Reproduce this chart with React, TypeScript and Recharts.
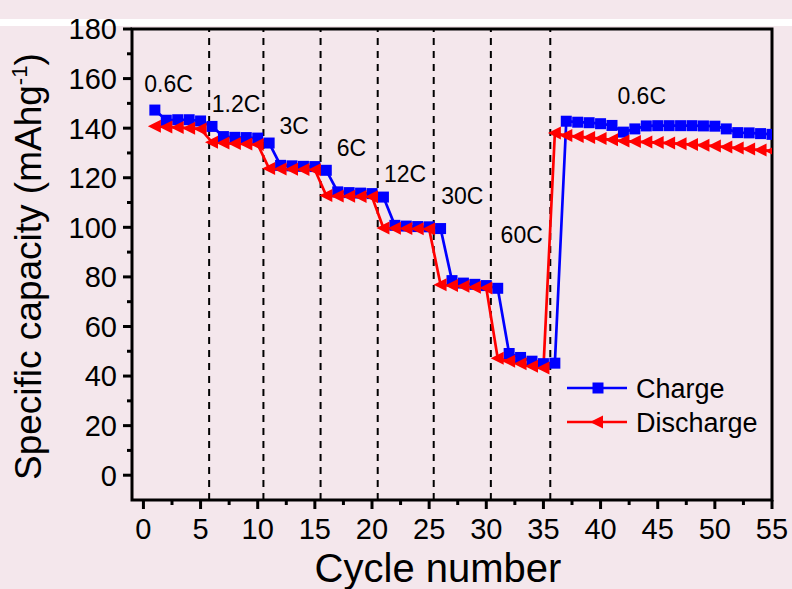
import React from "react";
import {
  LineChart,
  Line,
  XAxis,
  YAxis,
  ReferenceLine,
  ReferenceArea,
  ReferenceDot,
  Legend,
} from "recharts";

// cycle index
const cycles = [
  1, 2, 3, 4, 5, 6, 7, 8, 9, 10, 11, 12, 13, 14, 15, 16, 17, 18, 19, 20, 21, 22, 23, 24, 25, 26, 27, 28,
  29, 30, 31, 32, 33, 34, 35, 36, 37, 38, 39, 40, 41, 42, 43, 44, 45, 46, 47, 48, 49, 50, 51, 52, 53, 54, 55,
];

// mAh/g
const charge = [
  147.3, 143.2, 143.4, 143.4, 142.9, 140.7, 136.6, 136.3, 136.2, 136.0, 134.0, 125.0, 124.8, 124.6, 124.5,
  123.0, 114.3, 114.0, 113.8, 113.6, 112.2, 100.8, 100.5, 100.3, 100.2, 99.5, 78.5, 77.5, 77.0, 76.5,
  75.4, 49.1, 47.5, 46.0, 45.0, 45.2, 142.8, 142.4, 142.2, 141.8, 141.1, 138.4, 139.7, 140.9, 141.0,
  141.0, 141.0, 141.0, 140.9, 140.8, 139.7, 138.2, 138.1, 137.8, 137.5,
];

const discharge = [
  140.8, 140.5, 140.3, 140.0, 139.7, 134.3, 134.0, 133.8, 133.6, 133.4, 123.7, 123.5, 123.4, 123.3, 123.2,
  112.8, 112.6, 112.5, 112.4, 112.3, 99.7, 99.6, 99.5, 99.4, 99.3, 76.8, 76.5, 76.2, 75.8, 75.5,
  47.2, 46.0, 45.0, 44.0, 43.2, 138.0, 137.0, 136.6, 136.2, 135.8, 135.3, 134.8, 134.6, 134.4, 134.2,
  134.0, 133.7, 133.4, 133.1, 132.8, 132.4, 132.0, 131.6, 131.2, 130.8,
];

const rateBoundaries = [5.75, 10.5, 15.5, 20.5, 25.4, 30.4, 35.6];
const rateLabels = ["0.6C", "1.2C", "3C", "6C", "12C", "30C", "60C", "0.6C"];
const rateLabelX = [2.2, 8.1, 13.2, 18.2, 22.9, 27.9, 33.1, 43.6];
const rateLabelY = [158, 150, 141, 132, 121.7, 112.5, 96.8, 153];

const xTicks = [
  0, 2.5, 5, 7.5, 10, 12.5, 15, 17.5, 20, 22.5, 25, 27.5, 30, 32.5, 35, 37.5, 40, 42.5, 45, 47.5, 50, 52.5, 55,
];
const yTicks = [0, 10, 20, 30, 40, 50, 60, 70, 80, 90, 100, 110, 120, 130, 140, 150, 160, 170, 180];

const data = cycles.map((c, i) => ({ cycle: c, charge: charge[i], discharge: discharge[i] }));

const BLUE = "#0000ff";
const RED = "#ff0000";

const SquareDot = (props: any) => {
  const { cx, cy, index } = props;
  if (cx == null || cy == null) return <g key={index} />;
  return <rect key={index} x={cx - 5.5} y={cy - 5.5} width={11} height={11} fill={BLUE} />;
};

const TriangleDot = (props: any) => {
  const { cx, cy, index } = props;
  if (cx == null || cy == null) return <g key={index} />;
  return (
    <polygon
      key={index}
      points={`${cx - 7},${cy} ${cx + 6},${cy - 6.5} ${cx + 6},${cy + 6.5}`}
      fill={RED}
    />
  );
};

const XTick = (props: any) => {
  const { x, y, payload } = props;
  const major = payload.value % 5 === 0;
  return (
    <g>
      <line x1={x} y1={y} x2={x} y2={y + (major ? 9 : 5)} stroke="#000" strokeWidth={3} />
      {major && (
        <text x={x} y={y + 39} textAnchor="middle" fontSize={29} fill="#000">
          {payload.value}
        </text>
      )}
    </g>
  );
};

const YTick = (props: any) => {
  const { x, y, payload } = props;
  const major = payload.value % 20 === 0;
  return (
    <g>
      <line x1={x - (major ? 9 : 5)} y1={y} x2={x} y2={y} stroke="#000" strokeWidth={3} />
      {major && (
        <text x={x - 15} y={y} dy="0.36em" textAnchor="end" fontSize={29} fill="#000">
          {payload.value}
        </text>
      )}
    </g>
  );
};

const XTitle = (props: any) => {
  const vb = props.viewBox || { x: 132, y: 500, width: 640, height: 89 };
  return (
    <text x={vb.x + vb.width / 2 - 14} y={vb.y + 82} textAnchor="middle" fontSize={40} fill="#000">
      Cycle number
    </text>
  );
};

const YTitle = () => (
  <text x={41} y={480} transform="rotate(-90 41 480)" textAnchor="start" fontSize={37} fill="#000">
    Specific capacity (mAhg
    <tspan fontSize={22} dy={-14}>-1</tspan>
    <tspan dy={14}>)</tspan>
  </text>
);

const LegendBox = () => (
  <svg width={210} height={70}>
    <line x1={0} y1={14} x2={60} y2={14} stroke={BLUE} strokeWidth={2.7} />
    <rect x={25.5} y={8.5} width={11} height={11} fill={BLUE} />
    <text x={69} y={14} dy="0.36em" fontSize={27} fill="#000">
      Charge
    </text>
    <line x1={0} y1={48} x2={60} y2={48} stroke={RED} strokeWidth={2.7} />
    <polygon points="23,48 36,41.5 36,54.5" fill={RED} />
    <text x={69} y={48} dy="0.36em" fontSize={27} fill="#000">
      Discharge
    </text>
  </svg>
);

export default function App() {
  return (
    <div
      style={{
        position: "absolute",
        left: 0,
        top: 0,
        width: 792,
        height: 589,
        background: "#f4e7ec",
        overflow: "hidden",
        fontFamily: '"Liberation Sans", Arial, sans-serif',
      }}
    >
      <div style={{ position: "absolute", left: 0, top: 19, width: 792, height: 7, background: "#fff" }} />
      <div style={{ position: "absolute", left: 0, top: 0 }}>
        <LineChart
          width={792}
          height={589}
          data={data}
          margin={{ top: 29, right: 20, bottom: 0, left: 0 }}
          style={{ fontFamily: '"Liberation Sans", Arial, sans-serif' }}
        >
          <XAxis
            dataKey="cycle"
            type="number"
            domain={[-1, 55]}
            ticks={xTicks}
            interval={0}
            allowDataOverflow
            height={89}
            axisLine={false}
            tickLine={false}
            tickSize={0}
            tickMargin={0}
            tick={<XTick />}
            label={<XTitle />}
          />
          <YAxis
            type="number"
            domain={[-10, 180]}
            ticks={yTicks}
            interval={0}
            allowDataOverflow
            width={132}
            axisLine={false}
            tickLine={false}
            tickSize={0}
            tickMargin={0}
            tick={<YTick />}
            label={<YTitle />}
          />
          <ReferenceArea
            x1={-1}
            x2={55}
            y1={-10}
            y2={180}
            fill="none"
            fillOpacity={0}
            stroke="#000"
            strokeWidth={3}
            ifOverflow="visible"
          />
          {rateBoundaries.map((b) => (
            <ReferenceLine key={b} x={b} stroke="#000" strokeWidth={2} strokeDasharray="7 6" />
          ))}
          {rateLabels.map((t, i) => (
            <ReferenceDot
              key={i}
              x={rateLabelX[i]}
              y={rateLabelY[i]}
              r={0}
              fill="none"
              stroke="none"
              label={{ value: t, position: "center", fontSize: 23, fill: "#000" }}
            />
          ))}
          <Line
            type="linear"
            dataKey="charge"
            stroke={BLUE}
            strokeWidth={2.7}
            dot={SquareDot}
            activeDot={false}
            isAnimationActive={false}
          />
          <Line
            type="linear"
            dataKey="discharge"
            stroke={RED}
            strokeWidth={2.7}
            dot={TriangleDot}
            activeDot={false}
            isAnimationActive={false}
          />
          <Legend
            verticalAlign="middle"
            content={<LegendBox />}
            wrapperStyle={{ left: 567, top: 374, width: 210, height: 70 }}
          />
        </LineChart>
      </div>
    </div>
  );
}
